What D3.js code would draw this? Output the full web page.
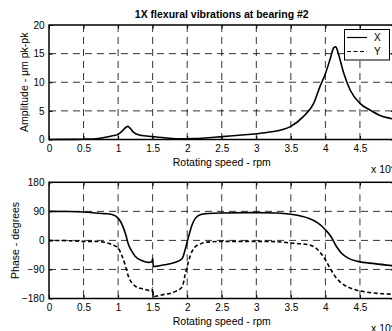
<!DOCTYPE html>
<html>
<head>
<meta charset="utf-8">
<script src="https://cdn.jsdelivr.net/npm/d3@7"></script>
<style>
body { margin: 0; overflow: hidden; background: #fff; }
svg { display: block; }
text { font-family: "Liberation Sans", Arial, sans-serif; fill: #000; }
</style>
</head>
<body>
<svg id="canvas" width="440" height="331"></svg>
<script>
// speed in units of 10^4 rpm
var speed_ticks = [0, 0.5, 1, 1.5, 2, 2.5, 3, 3.5, 4, 4.5, 5];
var amp_ticks = [0, 5, 10, 15, 20];
var phase_ticks = [-180, -90, 0, 90, 180];
var legend_labels = ["X", "Y"];

var amp_speed = [0, 0.3, 0.5, 0.63, 0.8, 0.94, 1.0, 1.06, 1.11, 1.14, 1.18, 1.22, 1.32, 1.5, 1.71, 1.9,
                 2.1, 2.3, 2.5, 2.75, 3.0, 3.2, 3.5, 3.68, 3.83, 3.92, 4.0, 4.07, 4.12, 4.15, 4.18,
                 4.26, 4.36, 4.5, 4.65, 4.79, 4.97, 5.0];
var amp_x = [0, 0.02, 0.05, 0.1, 0.35, 0.7, 0.9, 1.5, 2.1, 2.3, 1.9, 1.3, 0.75, 0.5, 0.25, 0.12,
             0.15, 0.3, 0.5, 0.75, 1.0, 1.3, 2.3, 4.0, 6.3, 9.2, 11.5, 14.1, 16.0, 16.2, 15.3,
             11.8, 8.6, 6.3, 5.1, 4.2, 3.6, 3.5];

var phase_speed = [0, 0.3, 0.5, 0.67, 0.8, 0.91, 1.0, 1.06, 1.11, 1.15, 1.2, 1.25, 1.35, 1.44, 1.49, 1.5, 1.51,
                   1.63, 1.83, 1.93, 1.97, 2.02, 2.07, 2.12, 2.2, 2.27, 2.5, 3.0, 3.3, 3.5, 3.75, 3.89,
                   4.0, 4.08, 4.16, 4.23, 4.33, 4.47, 4.71, 5.0];
var phase_x = [90, 89.5, 88, 85, 83, 80, 69, 48, 18, -13, -34, -50, -63, -68, -66, -56, -81,
               -77, -68, -55, -29, 12, 48, 69, 80, 83, 85, 86, 85, 81, 69, 54,
               33, 12, -19, -39, -55, -65, -72, -79];
var phase_y = [0, -1, -3, -3, -6, -13, -24, -50, -81, -112, -132, -142, -150, -155, -158, -148, -174,
               -169, -158, -143, -106, -65, -34, -19, -10, -6, -3, -3, -4, -8, -13, -29,
               -60, -91, -117, -132, -145, -155, -163, -167];

var svg = d3.select('#canvas');
var x_left = 49, x_right = 394.5;

svg.append('text')
  .attr('x', (x_left + x_right) / 2).attr('y', 17.5)
  .attr('text-anchor', 'middle')
  .style('font-size', '10.5px').style('font-weight', 'bold')
  .text('1X flexural vibrations at bearing #2');

// ************************************************************************************** //
// Panel

function makePanel(top, bottom, yDomain, yTicks, yLabel, yLabelX, series, showLegend) {
  var xScale = d3.scaleLinear().domain([0, 5]).range([x_left, x_right]);
  var yScale = d3.scaleLinear().domain(yDomain).range([bottom, top]);
  var g = svg.append('g');

  // grid
  g.selectAll('.vgrid').data(speed_ticks.slice(1, -1)).enter().append('line')
    .attr('x1', d => xScale(d)).attr('x2', d => xScale(d))
    .attr('y1', top).attr('y2', bottom)
    .attr('stroke', '#000').attr('stroke-width', 0.8).attr('stroke-dasharray', '7,5');
  g.selectAll('.hgrid').data(yTicks.slice(1, -1)).enter().append('line')
    .attr('x1', x_left).attr('x2', x_right)
    .attr('y1', d => yScale(d)).attr('y2', d => yScale(d))
    .attr('stroke', '#000').attr('stroke-width', 0.8).attr('stroke-dasharray', '7,5');

  // curves
  series.forEach(function(s) {
    var line = d3.line().x((d, i) => xScale(s.xs[i])).y(d => yScale(d)).curve(d3.curveMonotoneX);
    g.append('path').attr('d', line(s.ys))
      .attr('fill', 'none').attr('stroke', '#000').attr('stroke-width', 1.6)
      .attr('stroke-dasharray', s.dash ? '4,2.5' : null);
  });

  // axes
  var bAxis = g.append('g').attr('transform', 'translate(0,' + bottom + ')')
    .call(d3.axisBottom(xScale).tickValues(speed_ticks).tickSize(-3.5).tickPadding(5.5).tickFormat(d => String(d)));
  var tAxis = g.append('g').attr('transform', 'translate(0,' + top + ')')
    .call(d3.axisTop(xScale).tickValues(speed_ticks).tickSize(-3.5).tickFormat(''));
  var lAxis = g.append('g').attr('transform', 'translate(' + x_left + ',0)')
    .call(d3.axisLeft(yScale).tickValues(yTicks).tickSize(-3.5).tickPadding(4.5));
  var rAxis = g.append('g').attr('transform', 'translate(' + x_right + ',0)')
    .call(d3.axisRight(yScale).tickValues(yTicks).tickSize(-3.5).tickFormat(''));
  [bAxis, tAxis, lAxis, rAxis].forEach(function(a) {
    a.select('.domain').remove();
    a.selectAll('line').attr('stroke', '#000').attr('stroke-width', 1);
    a.selectAll('text').style('font-size', '10px').style('font-family', '"Liberation Sans", Arial, sans-serif');
    a.attr('font-family', null).attr('font-size', null);
  });

  g.append('rect')
    .attr('x', x_left).attr('y', top).attr('width', x_right - x_left).attr('height', bottom - top)
    .attr('fill', 'none').attr('stroke', '#000').attr('stroke-width', 1.5);

  // labels
  g.append('text')
    .attr('x', (x_left + x_right) / 2).attr('y', bottom + 26.5)
    .attr('text-anchor', 'middle').style('font-size', '10.5px')
    .text('Rotating speed - rpm');
  var mult = g.append('text').attr('x', 371).attr('y', bottom + 33).style('font-size', '10.5px');
  mult.append('tspan').text('x 10');
  mult.append('tspan').attr('dy', -4).style('font-size', '8px').text('4');

  g.append('text')
    .attr('transform', 'translate(' + yLabelX + ',' + (top + bottom) / 2 + ') rotate(-90)')
    .attr('dy', '0.35em').attr('text-anchor', 'middle').style('font-size', '10.5px')
    .text(yLabel);

  if (showLegend) {
    var lg = g.append('g');
    lg.append('rect').attr('x', 344.5).attr('y', 29.5).attr('width', 45).attr('height', 30.5)
      .attr('fill', '#fff').attr('stroke', '#000').attr('stroke-width', 1);
    legend_labels.forEach(function(lab, i) {
      var ly = 37.5 + i * 14;
      lg.append('line').attr('x1', 347).attr('x2', 367).attr('y1', ly).attr('y2', ly)
        .attr('stroke', '#000').attr('stroke-width', 1.2)
        .attr('stroke-dasharray', i == 1 ? '4,2.5' : null);
      lg.append('text').attr('x', 374).attr('y', ly).attr('dy', '0.35em')
        .style('font-size', '10px').text(lab);
    });
  }
}

makePanel(25, 139.5, [0, 20], amp_ticks, 'Amplitude - \u03bcm pk-pk', 24,
  [{ xs: amp_speed, ys: amp_x, dash: false }], true);
makePanel(182.3, 298.5, [-180, 180], phase_ticks, 'Phase - degrees', 15,
  [{ xs: phase_speed, ys: phase_y, dash: true }, { xs: phase_speed, ys: phase_x, dash: false }], false);
</script>
</body>
</html>
